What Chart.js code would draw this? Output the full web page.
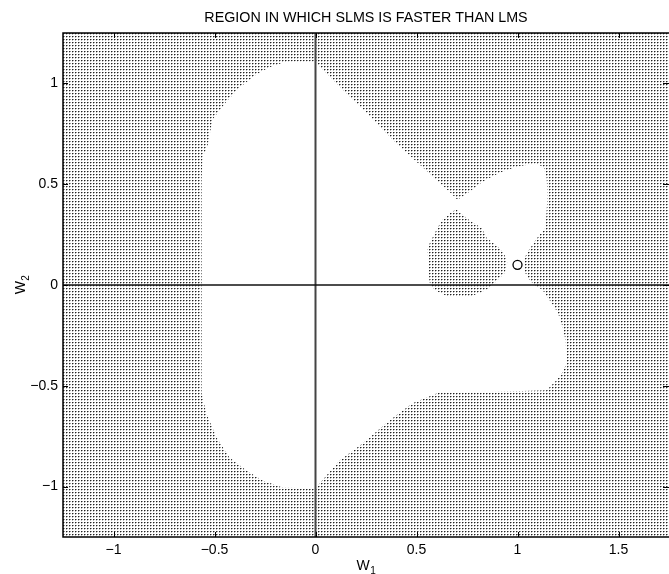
<!DOCTYPE html>
<html>
<head>
<meta charset="utf-8">
<style>
  html, body { margin: 0; padding: 0; background: #fff; }
</style>
<script src="https://cdn.jsdelivr.net/npm/chart.js@4.4.0/dist/chart.umd.min.js"></script>
</head>
<body>
<canvas id="regionChart" width="669" height="574"></canvas>
<script>
const xRange = [-1.25, 1.75];
const yRange = [-1.25, 1.25];
const xTicks = [-1, -0.5, 0, 0.5, 1, 1.5];
const yTicks = [-1, -0.5, 0, 0.5, 1];

// outline of the white (not faster) region, w1 / w2
const whiteW1 = [0.000, 0.020, 0.134, 0.252, 0.381, 0.515, 0.599, 0.663, 0.703,
  0.762, 0.827, 0.911, 0.995, 1.084, 1.129, 1.144, 1.149, 1.139, 1.109, 1.084,
  1.050, 1.035, 1.035, 1.059, 1.084, 1.124, 1.158, 1.183, 1.208, 1.223, 1.238,
  1.243, 1.223, 1.193, 1.144, 0.827, 0.614, 0.480, 0.366, 0.233, 0.119, 0.020,
  0.000, -0.163, -0.262, -0.342, -0.426, -0.490, -0.540, -0.564, -0.564, -0.559,
  -0.535, -0.510, -0.441, -0.376, -0.292, -0.228, -0.144];
const whiteW2 = [1.109, 1.085, 0.970, 0.856, 0.721, 0.597, 0.522, 0.463, 0.423,
  0.463, 0.512, 0.557, 0.587, 0.602, 0.587, 0.532, 0.448, 0.284, 0.249, 0.214,
  0.164, 0.134, 0.065, 0.025, 0.000, -0.025, -0.075, -0.109, -0.159, -0.209, -0.274,
  -0.388, -0.433, -0.473, -0.522, -0.532, -0.532, -0.587, -0.672, -0.786, -0.871, -0.985,
  -1.010, -1.005, -0.970, -0.920, -0.856, -0.756, -0.637, -0.537, 0.522, 0.637,
  0.687, 0.821, 0.910, 0.980, 1.045, 1.080, 1.109];

// dotted island inside the white region
const islandW1 = [0.698, 0.728, 0.772, 0.822, 0.847, 0.911, 0.936, 0.950, 0.936,
  0.886, 0.861, 0.812, 0.772, 0.649, 0.589, 0.564, 0.554, 0.579, 0.604, 0.629, 0.673];
const islandW2 = [0.373, 0.348, 0.313, 0.284, 0.234, 0.184, 0.149, 0.109, 0.060,
  0.010, -0.015, -0.040, -0.055, -0.055, -0.025, 0.015, 0.184, 0.234, 0.284, 0.323, 0.363];

// marked point
const markW1 = [1.0];
const markW2 = [0.1];

const FONT = "'Liberation Sans', Arial, Helvetica, sans-serif";

function dotPattern() {
  const c = document.createElement('canvas');
  c.width = 3; c.height = 3;
  const g = c.getContext('2d');
  g.fillStyle = '#222'; g.fillRect(0, 0, 1, 1);
  g.fillStyle = '#999'; g.fillRect(1, 0, 1, 1);
  g.fillStyle = '#bbb'; g.fillRect(0, 1, 1, 1);
  return g.createPattern(c, 'repeat');
}
const dots = dotPattern();

const zip = (xs, ys) => xs.map((x, i) => ({ x: x, y: ys[i] }));
const fmt = v => (v < 0 ? '\u2212' + Math.abs(v) : String(v));

function polygon(pts, color, order) {
  return {
    data: pts, order: order, fill: 'shape', backgroundColor: color,
    borderColor: 'rgba(0,0,0,0)', borderWidth: 0, pointRadius: 0, tension: 0
  };
}

// text with a subscript, e.g. W1
function subText(ctx, main, sub, x, y) {
  ctx.font = '14px ' + FONT;
  const w1 = ctx.measureText(main).width;
  ctx.font = '10px ' + FONT;
  const w2 = ctx.measureText(sub).width;
  const left = x - (w1 + w2) / 2;
  ctx.font = '14px ' + FONT;
  ctx.fillText(main, left, y);
  ctx.font = '10px ' + FONT;
  ctx.fillText(sub, left + w1 + 0.5, y + 4);
}

// inward tick marks, box round the plot (right side falls off the page), axis names
const framePlugin = {
  id: 'frame',
  afterDatasetsDraw(chart) {
    const { ctx, chartArea: a, scales: { x, y } } = chart;
    ctx.save();
    ctx.strokeStyle = '#000';
    ctx.lineWidth = 1;
    ctx.beginPath();
    xTicks.forEach(v => {
      const px = Math.round(x.getPixelForValue(v)) + 0.5;
      ctx.moveTo(px, a.top); ctx.lineTo(px, a.top + 5);
      ctx.moveTo(px, a.bottom); ctx.lineTo(px, a.bottom - 5);
    });
    yTicks.forEach(v => {
      const py = Math.round(y.getPixelForValue(v)) + 0.5;
      ctx.moveTo(a.left, py); ctx.lineTo(a.left + 5, py);
      ctx.moveTo(a.right, py); ctx.lineTo(a.right - 6, py);
    });
    ctx.stroke();
    ctx.lineWidth = 1.5;
    ctx.beginPath();
    ctx.moveTo(a.right, a.top);
    ctx.lineTo(a.left, a.top);
    ctx.lineTo(a.left, a.bottom);
    ctx.lineTo(a.right, a.bottom);
    ctx.stroke();

    ctx.fillStyle = '#000';
    ctx.textBaseline = 'alphabetic';
    subText(ctx, 'W', '1', (a.left + a.right) / 2, 570);
    ctx.translate(25, (a.top + a.bottom) / 2);
    ctx.rotate(-Math.PI / 2);
    subText(ctx, 'W', '2', 0, 0);
    ctx.restore();
  }
};

new Chart(document.getElementById('regionChart'), {
  type: 'line',
  data: {
    datasets: [
      {
        data: zip(markW1, markW2), order: 0, showLine: false,
        pointRadius: 4.5, pointBorderWidth: 1.3, pointBorderColor: '#000',
        pointBackgroundColor: 'rgba(0,0,0,0)'
      },
      { data: zip(xRange, [0, 0]), order: 1, borderColor: '#111', borderWidth: 1.5, pointRadius: 0 },
      { data: zip([0, 0], yRange), order: 1, borderColor: '#444', borderWidth: 2, pointRadius: 0 },
      polygon(zip(islandW1, islandW2), dots, 2),
      polygon(zip(whiteW1, whiteW2), '#fff', 3),
      polygon(zip([xRange[0], xRange[1], xRange[1], xRange[0]],
                  [yRange[0], yRange[0], yRange[1], yRange[1]]), dots, 4)
    ]
  },
  options: {
    responsive: false,
    animation: false,
    layout: { padding: 0, autoPadding: false },
    plugins: {
      legend: { display: false },
      tooltip: { enabled: false },
      title: {
        display: true,
        text: 'REGION IN WHICH SLMS IS FASTER THAN LMS',
        fullSize: false,
        color: '#000',
        font: { family: FONT, size: 14.3, weight: 'normal' },
        padding: { top: 9, bottom: 6.8 }
      }
    },
    scales: {
      x: {
        type: 'linear',
        min: xRange[0], max: xRange[1],
        grid: { display: false, drawTicks: false },
        border: { display: false },
        afterBuildTicks: s => { s.ticks = xTicks.map(v => ({ value: v })); },
        afterFit: s => { s.height = 37; s.paddingLeft = 0; s.paddingRight = 0; },
        ticks: { color: '#000', padding: 5, maxRotation: 0, font: { family: FONT, size: 14 }, callback: fmt }
      },
      y: {
        type: 'linear',
        min: yRange[0], max: yRange[1],
        grid: { display: false, drawTicks: false },
        border: { display: false },
        afterBuildTicks: s => { s.ticks = yTicks.map(v => ({ value: v })); },
        afterFit: s => { s.width = 63; s.paddingTop = 0; s.paddingBottom = 0; },
        ticks: { color: '#000', padding: 5, font: { family: FONT, size: 14 }, callback: fmt }
      }
    }
  },
  plugins: [framePlugin]
});
</script>
</body>
</html>
